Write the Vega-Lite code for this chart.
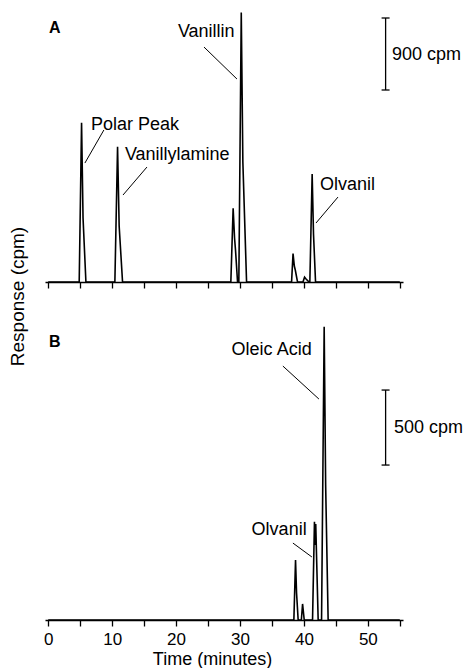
{
  "$schema": "https://vega.github.io/schema/vega-lite/v6.json",
  "autosize": {"type": "pad"},
  "padding": {"left": 8, "top": 8, "right": 0, "bottom": 0},
  "background": "white",
  "bounds": "flush",
  "spacing": 38,
  "config": {
    "view": {"stroke": null},
    "font": "Liberation Sans",
    "axis": {"grid": false, "domainColor": "black", "tickColor": "black", "labelColor": "black", "titleColor": "black", "titleFontWeight": "normal"}
  },
  "datasets": {
    "trace": [
      {"panel": "A", "t": 0, "r": 0},
      {"panel": "A", "t": 4.85, "r": 0},
      {"panel": "A", "t": 5.22, "r": 1990},
      {"panel": "A", "t": 5.45, "r": 800},
      {"panel": "A", "t": 5.9, "r": 0},
      {"panel": "A", "t": 10.43, "r": 0},
      {"panel": "A", "t": 10.85, "r": 1690},
      {"panel": "A", "t": 11.1, "r": 700},
      {"panel": "A", "t": 11.63, "r": 0},
      {"panel": "A", "t": 28.57, "r": 0},
      {"panel": "A", "t": 28.93, "r": 920},
      {"panel": "A", "t": 29.15, "r": 550},
      {"panel": "A", "t": 29.3, "r": 400},
      {"panel": "A", "t": 29.62, "r": 0},
      {"panel": "A", "t": 29.82, "r": 0},
      {"panel": "A", "t": 30.2, "r": 3370},
      {"panel": "A", "t": 30.45, "r": 1500},
      {"panel": "A", "t": 31.03, "r": 0},
      {"panel": "A", "t": 38.07, "r": 0},
      {"panel": "A", "t": 38.3, "r": 356},
      {"panel": "A", "t": 38.5, "r": 200},
      {"panel": "A", "t": 38.65, "r": 150},
      {"panel": "A", "t": 39.0, "r": 0},
      {"panel": "A", "t": 39.85, "r": 0},
      {"panel": "A", "t": 40.1, "r": 60},
      {"panel": "A", "t": 40.3, "r": 40},
      {"panel": "A", "t": 40.8, "r": 0},
      {"panel": "A", "t": 40.93, "r": 0},
      {"panel": "A", "t": 41.29, "r": 1350},
      {"panel": "A", "t": 41.5, "r": 600},
      {"panel": "A", "t": 41.82, "r": 0},
      {"panel": "A", "t": 55, "r": 0},
      {"panel": "B", "t": 0, "r": 0},
      {"panel": "B", "t": 38.43, "r": 0},
      {"panel": "B", "t": 38.69, "r": 400},
      {"panel": "B", "t": 38.85, "r": 180},
      {"panel": "B", "t": 39.1, "r": 0},
      {"panel": "B", "t": 39.6, "r": 0},
      {"panel": "B", "t": 39.79, "r": 107},
      {"panel": "B", "t": 40.05, "r": 0},
      {"panel": "B", "t": 41.35, "r": 0},
      {"panel": "B", "t": 41.65, "r": 655},
      {"panel": "B", "t": 41.75, "r": 500},
      {"panel": "B", "t": 41.85, "r": 640},
      {"panel": "B", "t": 42.23, "r": 0},
      {"panel": "B", "t": 42.76, "r": 0},
      {"panel": "B", "t": 43.17, "r": 1955},
      {"panel": "B", "t": 43.4, "r": 900},
      {"panel": "B", "t": 43.79, "r": 0},
      {"panel": "B", "t": 55, "r": 0}
    ],
    "leaders": [
      {"panel": "A", "t": 8.71, "r": 1900, "t2": 5.74, "r2": 1487},
      {"panel": "A", "t": 15.45, "r": 1437, "t2": 11.7, "r2": 1087},
      {"panel": "A", "t": 24.37, "r": 2937, "t2": 29.53, "r2": 2537},
      {"panel": "A", "t": 45.33, "r": 1062, "t2": 41.89, "r2": 737},
      {"panel": "B", "t": 36.71, "r": 1693, "t2": 42.35, "r2": 1473},
      {"panel": "B", "t": 38.28, "r": 513, "t2": 41.25, "r2": 420}
    ],
    "bars": [
      {"panel": "A", "t": 52.78, "r": 2400, "t2": 52.78, "r2": 3300},
      {"panel": "A", "t": 52.15, "r": 2400, "t2": 53.4, "r2": 2400},
      {"panel": "A", "t": 52.15, "r": 3300, "t2": 53.4, "r2": 3300},
      {"panel": "B", "t": 52.78, "r": 1033, "t2": 52.78, "r2": 1533},
      {"panel": "B", "t": 52.15, "r": 1033, "t2": 53.4, "r2": 1033},
      {"panel": "B", "t": 52.15, "r": 1533, "t2": 53.4, "r2": 1533}
    ],
    "labels": [
      {"panel": "A", "t": 6.68, "r": 1962, "text": "Polar Peak"},
      {"panel": "A", "t": 12.0, "r": 1587, "text": "Vanillylamine"},
      {"panel": "A", "t": 20.29, "r": 3125, "text": "Vanillin"},
      {"panel": "A", "t": 42.52, "r": 1212, "text": "Olvanil"},
      {"panel": "A", "t": 53.78, "r": 2837, "text": "900 cpm"},
      {"panel": "B", "t": 28.69, "r": 1800, "text": "Oleic Acid"},
      {"panel": "B", "t": 31.82, "r": 600, "text": "Olvanil"},
      {"panel": "B", "t": 54.08, "r": 1280, "text": "500 cpm"}
    ],
    "letters": [
      {"panel": "A", "t": 0.11, "r": 3175, "text": "A"},
      {"panel": "B", "t": 0.11, "r": 1853, "text": "B"}
    ]
  },
  "vconcat": [
    {
      "width": 358,
      "height": 274,
      "encoding": {
        "x": {"field": "t", "type": "quantitative", "scale": {"domain": [-0.5, 55.5], "nice": false, "zero": false},
              "axis": {"values": [0, 5, 10, 15, 20, 25, 30, 35, 40, 45, 50, 55], "labels": false, "title": null, "tickSize": 6, "tickWidth": 1.3, "domainWidth": 1.5}},
        "y": {"field": "r", "type": "quantitative", "scale": {"domain": [0, 3425], "nice": false},
              "axis": {"title": "Response (cpm)", "domain": false, "ticks": false, "labels": false, "titleFontSize": 19, "titlePadding": 18, "titleY": 288}}
      },
      "layer": [
        {"data": {"name": "trace"}, "transform": [{"filter": "datum.panel === 'A'"}], "mark": {"type": "line", "color": "black", "strokeWidth": 1.6}},
        {"data": {"name": "leaders"}, "transform": [{"filter": "datum.panel === 'A'"}], "mark": {"type": "rule", "color": "black", "strokeWidth": 1}, "encoding": {"x2": {"field": "t2"}, "y2": {"field": "r2"}}},
        {"data": {"name": "bars"}, "transform": [{"filter": "datum.panel === 'A'"}], "mark": {"type": "rule", "color": "black", "strokeWidth": 1.3}, "encoding": {"x2": {"field": "t2"}, "y2": {"field": "r2"}}},
        {"data": {"name": "labels"}, "transform": [{"filter": "datum.panel === 'A'"}], "mark": {"type": "text", "align": "left", "baseline": "middle", "fontSize": 18, "color": "black"}, "encoding": {"text": {"field": "text"}}},
        {"data": {"name": "letters"}, "transform": [{"filter": "datum.panel === 'A'"}], "mark": {"type": "text", "align": "left", "baseline": "middle", "fontSize": 16, "fontWeight": "bold", "color": "black"}, "encoding": {"text": {"field": "text"}}}
      ]
    },
    {
      "width": 358,
      "height": 300,
      "encoding": {
        "x": {"field": "t", "type": "quantitative", "scale": {"domain": [-0.5, 55.5], "nice": false, "zero": false},
              "axis": {"values": [0, 5, 10, 15, 20, 25, 30, 35, 40, 45, 50, 55], "labelExpr": "datum.value % 10 === 0 ? datum.label : ''", "labelFontSize": 17, "labelPadding": 5, "title": "Time (minutes)", "titleFontSize": 18, "titlePadding": 3, "titleX": 167, "tickSize": 6, "tickWidth": 1.3, "domainWidth": 1.5}},
        "y": {"field": "r", "type": "quantitative", "scale": {"domain": [0, 2000], "nice": false}, "axis": null}
      },
      "layer": [
        {"data": {"name": "trace"}, "transform": [{"filter": "datum.panel === 'B'"}], "mark": {"type": "line", "color": "black", "strokeWidth": 1.6}},
        {"data": {"name": "leaders"}, "transform": [{"filter": "datum.panel === 'B'"}], "mark": {"type": "rule", "color": "black", "strokeWidth": 1}, "encoding": {"x2": {"field": "t2"}, "y2": {"field": "r2"}}},
        {"data": {"name": "bars"}, "transform": [{"filter": "datum.panel === 'B'"}], "mark": {"type": "rule", "color": "black", "strokeWidth": 1.3}, "encoding": {"x2": {"field": "t2"}, "y2": {"field": "r2"}}},
        {"data": {"name": "labels"}, "transform": [{"filter": "datum.panel === 'B'"}], "mark": {"type": "text", "align": "left", "baseline": "middle", "fontSize": 18, "color": "black"}, "encoding": {"text": {"field": "text"}}},
        {"data": {"name": "letters"}, "transform": [{"filter": "datum.panel === 'B'"}], "mark": {"type": "text", "align": "left", "baseline": "middle", "fontSize": 16, "fontWeight": "bold", "color": "black"}, "encoding": {"text": {"field": "text"}}}
      ]
    }
  ]
}
